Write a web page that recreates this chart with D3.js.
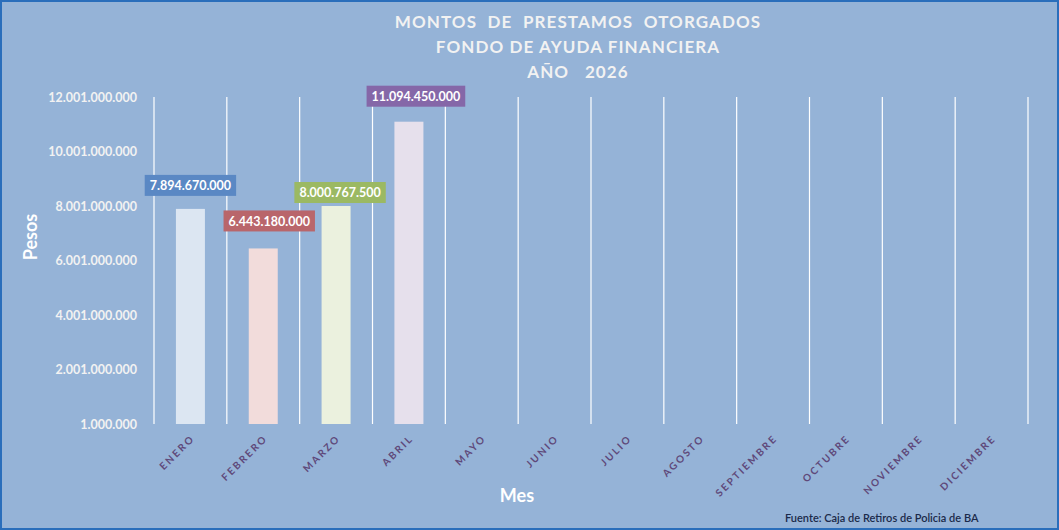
<!DOCTYPE html>
<html lang="es">
<head>
<meta charset="utf-8">
<title>Montos de prestamos otorgados</title>
<script src="https://cdn.jsdelivr.net/npm/d3@7"></script>
<style>
  body { margin: 0; background: #fff; }
  svg { display: block; font-family: Lato, "Open Sans", sans-serif; }
  .title { font-size: 17px; font-weight: bold; fill: #F2F2F2; letter-spacing: 1.1px; }
  .ytick { font-size: 12.5px; font-weight: bold; fill: #F2F2F2; }
  .xtick { font-size: 10px; font-weight: bold; fill: #5F497A; letter-spacing: 2.2px; }
  .axtitle { font-size: 18px; font-weight: bold; fill: #FFFFFF; }
  .lbl { font-size: 12.5px; font-weight: bold; fill: #FFFFFF; }
</style>
</head>
<body>
<script>
var meses = ["ENERO", "FEBRERO", "MARZO", "ABRIL", "MAYO", "JUNIO", "JULIO",
             "AGOSTO", "SEPTIEMBRE", "OCTUBRE", "NOVIEMBRE", "DICIEMBRE"];
var montos = [7894670000, 6443180000, 8000767500, 11094450000];
var yTicks = [1000000, 2001000000, 4001000000, 6001000000, 8001000000, 10001000000, 12001000000];
var titulo = ["MONTOS  DE  PRESTAMOS  OTORGADOS", "FONDO DE AYUDA FINANCIERA", "AÑO   2026"];

// estilos por mes
var barColors = ["#DCE6F2", "#F2DCDB", "#EBF1DE", "#E6E0EC"];
var labelColors = ["#5A88C4", "#B9666B", "#9BB963", "#8567A8"];
// desplazamiento manual de las etiquetas (como en la planilla)
var labelDx = [0, 6, 4, 7];
var labelDy = [-23, -27, -13, -25];

var w = 1059, h = 530;
var plot = { left: 154, right: 1028, top: 97, bottom: 424 };

var svg = d3.select("body").append("svg").attr("width", w).attr("height", h);

svg.append("rect").attr("x", 1).attr("y", 1).attr("width", w - 2).attr("height", h - 2)
   .attr("fill", "#95B3D7").attr("stroke", "#2A6EBB").attr("stroke-width", 2);

var x = d3.scaleBand().domain(meses).range([plot.left, plot.right]).padding(0);
var y = d3.scaleLinear().domain([1000000, 12001000000]).range([plot.bottom, plot.top]);

var fmt = function(v) { return d3.format(",")(v).replace(/,/g, "."); };

// titulo
svg.selectAll("text.title").data(titulo).enter().append("text")
   .attr("class", "title").attr("x", 578).attr("y", function(d, i) { return 28 + i * 25; })
   .attr("text-anchor", "middle").attr("xml:space", "preserve").text(function(d) { return d; });

// lineas verticales entre categorias
var bounds = meses.map(function(m) { return x(m); }).concat([plot.right]);
svg.selectAll("line.grid").data(bounds).enter().append("line")
   .attr("x1", function(d) { return d; }).attr("x2", function(d) { return d; })
   .attr("y1", plot.top).attr("y2", plot.bottom)
   .attr("stroke", "#FFFFFF").attr("stroke-width", 1.2);

// eje y
var yAxis = svg.append("g").attr("transform", "translate(" + (plot.left - 17) + ",0)")
   .call(d3.axisLeft(y).tickValues(yTicks).tickSize(0).tickFormat(fmt));
yAxis.select(".domain").remove();
yAxis.attr("font-family", null).attr("font-size", null);
yAxis.selectAll("text").attr("class", "ytick").attr("fill", null).attr("dy", "0.35em").attr("x", 0);

// eje x
var xAxis = svg.append("g").attr("transform", "translate(0," + plot.bottom + ")")
   .call(d3.axisBottom(x).tickSize(0));
xAxis.select(".domain").remove();
xAxis.attr("font-family", null).attr("font-size", null);
xAxis.selectAll("text").attr("class", "xtick").attr("fill", null)
   .attr("text-anchor", "end").attr("dy", null).attr("y", 0)
   .attr("transform", "translate(5,15) rotate(-45)");

// barras
var bw = 29;
svg.selectAll("rect.bar").data(montos).enter().append("rect")
   .attr("class", "bar")
   .attr("x", function(d, i) { return x(meses[i]) + x.bandwidth() / 2 - bw / 2; })
   .attr("y", function(d) { return y(d); })
   .attr("width", bw)
   .attr("height", function(d) { return plot.bottom - y(d); })
   .attr("fill", function(d, i) { return barColors[i]; });

// etiquetas de datos
var lbl = svg.selectAll("g.lbl").data(montos).enter().append("g")
   .attr("transform", function(d, i) {
     return "translate(" + (x(meses[i]) + x.bandwidth() / 2 + labelDx[i]) + "," + (y(d) + labelDy[i]) + ")";
   });
var box = lbl.append("rect").attr("y", -11).attr("height", 21)
   .attr("fill", function(d, i) { return labelColors[i]; });
var txt = lbl.append("text").attr("class", "lbl").attr("text-anchor", "middle").attr("dy", "0.35em")
   .text(function(d) { return fmt(d); });
txt.each(function(d, i) {
  var tw = this.getComputedTextLength() + 10;
  d3.select(box.nodes()[i]).attr("x", -tw / 2).attr("width", tw);
});

// titulos de ejes
svg.append("text").attr("class", "axtitle").attr("text-anchor", "middle")
   .attr("transform", "translate(37,237) rotate(-90)").text("Pesos");
svg.append("text").attr("class", "axtitle").attr("text-anchor", "middle")
   .attr("x", 517).attr("y", 502).text("Mes");

// fuente
svg.append("text").attr("x", 785).attr("y", 522).attr("font-size", "11px")
   .attr("font-weight", "600").attr("fill", "#1B2A4A")
   .text("Fuente: Caja de Retiros de Policia de BA");
</script>
</body>
</html>
